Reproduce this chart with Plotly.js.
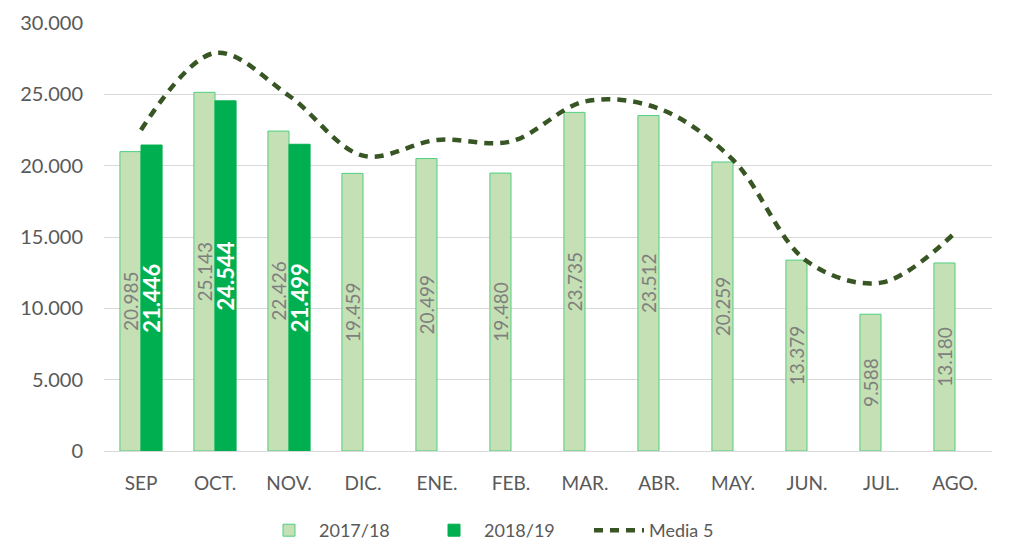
<!DOCTYPE html>
<html>
<head>
<meta charset="utf-8">
<script src="https://cdn.plot.ly/plotly-3.0.1.min.js"></script>
<style>html,body{margin:0;padding:0;background:#fff;}#chart{width:1013px;height:549px;}</style>
</head>
<body>
<div id="chart"></div>
<script>
const months = ['SEP', 'OCT.', 'NOV.', 'DIC.', 'ENE.', 'FEB.', 'MAR.', 'ABR.', 'MAY.', 'JUN.', 'JUL.', 'AGO.'];
const season1718 = [20985, 25143, 22426, 19459, 20499, 19480, 23735, 23512, 20259, 13379, 9588, 13180];
const season1819 = [21446, 24544, 21499, null, null, null, null, null, null, null, null, null];
const media5 = [22500, 27900, 24900, 20700, 21800, 21700, 24500, 24000, 20400, 13300, 11800, 15300];
const yTicks = [0, 5000, 10000, 15000, 20000, 25000, 30000];

const fontFam = 'Lato, "Open Sans", sans-serif';

const traces = [
  {
    type: 'bar', name: '2017/18', x: months, y: season1718,
    marker: {color: '#c5e0b4', line: {color: '#4fcf80', width: 1}},
    texttemplate: '%{y:,.0f}', textposition: 'inside', insidetextanchor: 'middle',
    textangle: -90, constraintext: 'none',
    textfont: {family: fontFam, size: 19, color: '#7f7f7f'},
    hoverinfo: 'skip'
  },
  {
    type: 'bar', name: '2018/19', x: months, y: season1819,
    marker: {color: '#00b050', line: {color: '#00b050', width: 1}},
    texttemplate: '<b>%{y:,.0f}</b>', textposition: 'inside', insidetextanchor: 'middle',
    textangle: -90, constraintext: 'none',
    textfont: {family: fontFam, size: 22, color: '#ffffff'},
    hoverinfo: 'skip'
  },
  {
    type: 'scatter', mode: 'lines', name: 'Media 5', x: months, y: media5,
    line: {color: '#375623', width: 4.5, dash: '9px,7px', shape: 'spline', smoothing: 1},
    hoverinfo: 'skip'
  }
];

const layout = {
  width: 1013, height: 549,
  margin: {l: 104, r: 21, t: 23, b: 98},
  paper_bgcolor: '#ffffff', plot_bgcolor: '#ffffff',
  separators: ',.',
  barmode: 'group', bargap: 0.43, bargroupgap: 0,
  font: {family: fontFam, color: '#595959', size: 19},
  xaxis: {
    type: 'category', showgrid: false, showline: true, linecolor: '#d9d9d9', linewidth: 1,
    ticks: '', tickfont: {size: 19, color: '#595959'}, ticklabelstandoff: 15
  },
  yaxis: {
    range: [0, 30000], tickvals: yTicks, tickformat: ',.0f',
    showgrid: true, gridcolor: '#d9d9d9', gridwidth: 1, zeroline: false,
    showline: false, ticks: '', tickfont: {size: 20, color: '#595959'}, ticklabelstandoff: 20
  },
  showlegend: true,
  legend: {
    orientation: 'h', xref: 'container', yref: 'container', x: 0.5, xanchor: 'center',
    y: 0.0, yanchor: 'bottom', font: {size: 18, color: '#595959'}, traceorder: 'normal',
    itemwidth: 50, entrywidth: 100, entrywidthmode: 'pixels'
  }
};

Plotly.newPlot('chart', traces, layout, {staticPlot: true, displayModeBar: false});
</script>
</body>
</html>
